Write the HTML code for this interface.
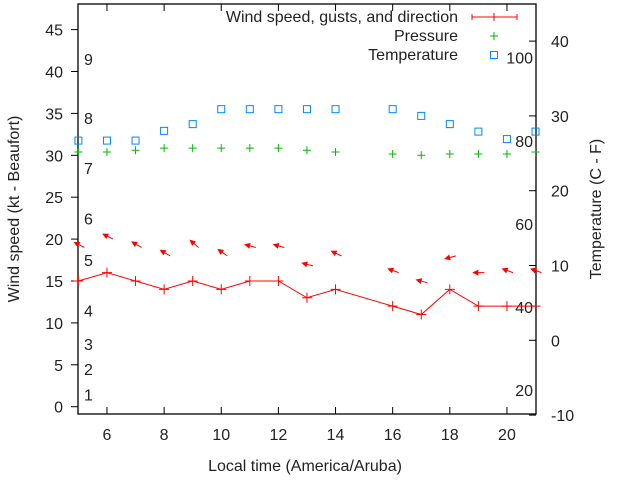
<!DOCTYPE html>
<html><head><meta charset="utf-8"><style>
body{margin:0;background:#fff}
text{font-family:"Liberation Sans",sans-serif;font-size:16px;fill:#222}
</style></head><body>
<svg id="c" width="640" height="480" xmlns="http://www.w3.org/2000/svg"></svg>
<script>
const hours=[5,6,7,8,9,10,11,12,13,14,16,17,18,19,20,21];
const windSpeed=[15,16,15,14,15,14,15,15,13,14,12,11,14,12,12,12];
const gusts=[19.0,20.0,19.0,18.0,19.0,18.0,19.0,19.0,16.8,18.0,16.0,14.8,18.0,16.0,16.0,16.0];
const windDir=[153,153,150,150,140,145,165,165,165,155,160,165,195,180,160,160];
const pressure=[30.4,30.4,30.6,30.85,30.85,30.85,30.85,30.85,30.6,30.4,30.15,30.0,30.15,30.15,30.15,30.4];
const tempC=[26.7,26.7,26.7,28.0,28.9,30.9,30.9,30.9,30.9,30.9,30.9,30.0,28.9,27.9,26.9,27.9];
const xTicks=[6,8,10,12,14,16,18,20];
const yTicks=[0,5,10,15,20,25,30,35,40,45];
const y2Ticks=[-10,0,10,20,30,40];
const beaufort=[[1,1],[2,4],[3,7],[4,11],[5,17],[6,22],[7,28],[8,34],[9,41]];
const fahr=[20,40,60,80,100];

const L=78,R=536,T=4,B=414;
const X=v=>78.4+(v-5)*28.57;
const Y=v=>406.7-v*8.38;
const Y2=v=>340.3-v*7.48;
const svg=document.getElementById('c');
const NS='http://www.w3.org/2000/svg';
function mk(tag,a,txt){const e=document.createElementNS(NS,tag);for(const k in a)e.setAttribute(k,a[k]);if(txt!==undefined)e.textContent=txt;svg.appendChild(e);return e;}

let e;
e=mk('rect',{x:L,y:T,width:R-L,height:B-T,fill:'none',stroke:'#000','stroke-width':1.3});


xTicks.forEach(t=>{
  e=mk('path',{d:`M${X(t)},${B}v-7M${X(t)},${T}v7`,stroke:'#000'});
  
  
  e=mk('text',{x:X(t),y:B+26,'text-anchor':'middle'},t);
  
  
});
yTicks.forEach(t=>{
  e=mk('path',{d:`M${L},${Y(t)}h-7`,stroke:'#000'});
  
  
  e=mk('text',{x:L-15,y:Y(t)+6,'text-anchor':'end'},t);
  
  
});
y2Ticks.forEach(t=>{
  e=mk('path',{d:`M${R},${Y2(t)}h-7`,stroke:'#000'});
  
  
  e=mk('text',{x:R+15,y:Y2(t)+6,'text-anchor':'start'},t);
  
  
});
beaufort.forEach(b=>{
  e=mk('text',{x:84,y:Y(b[1])+2},b[0]);
  
  
});
fahr.forEach(f=>{
  e=mk('text',{x:533,y:Y2((f-32)/1.8)+6,'text-anchor':'end'},f);
  
  
});
e=mk('text',{x:305,y:471,'text-anchor':'middle'},'Local time (America/Aruba)');


e=mk('text',{x:0,y:0,'text-anchor':'middle',transform:'translate(19,209) rotate(-90)'},'Wind speed (kt - Beaufort)');


e=mk('text',{x:0,y:0,'text-anchor':'middle',transform:'translate(601,209) rotate(-90)'},'Temperature (C - F)');



e=mk('polyline',{points:hours.map((h,i)=>X(h)+','+Y(windSpeed[i])).join(' '),fill:'none',stroke:'#f00','stroke-width':1});


hours.forEach((h,i)=>{
  e=mk('path',{d:`M${X(h)-5},${Y(windSpeed[i])}h10M${X(h)},${Y(windSpeed[i])-5}v10`,stroke:'#f00'});
  
  
  const tx=X(h)+6,ty=Y(gusts[i]),a=windDir[i]*Math.PI/180;
  const hx=tx+11*Math.cos(a),hy=ty-11*Math.sin(a);
  const a1=a+0.45,a2=a-0.45;
  e=mk('path',{d:`M${tx},${ty}L${hx},${hy}M${hx},${hy}L${hx-5*Math.cos(a1)},${hy+5*Math.sin(a1)}L${hx-5*Math.cos(a2)},${hy+5*Math.sin(a2)}Z`,stroke:'#f00',fill:'#f00','stroke-width':1});
  
  
  e=mk('path',{d:`M${X(h)-4},${Y(pressure[i])}h8M${X(h)},${Y(pressure[i])-4}v8`,stroke:'#0b0'});
  
  
  e=mk('rect',{x:X(h)-3.5,y:Y2(tempC[i])-3.5,width:7,height:7,fill:'none',stroke:'#08f'});
  
  
});
e=mk('text',{x:458,y:22,'text-anchor':'end'},'Wind speed, gusts, and direction');


e=mk('path',{d:'M472,17h45M472,14v6M517,14v6M494,13v8',stroke:'#f00'});


e=mk('text',{x:458,y:41,'text-anchor':'end'},'Pressure');


e=mk('path',{d:'M490,36h8M494,32v8',stroke:'#0b0'});


e=mk('text',{x:458,y:60,'text-anchor':'end'},'Temperature');


e=mk('rect',{x:490.5,y:51.5,width:7,height:7,fill:'none',stroke:'#08f'});


</script>
</body></html>
